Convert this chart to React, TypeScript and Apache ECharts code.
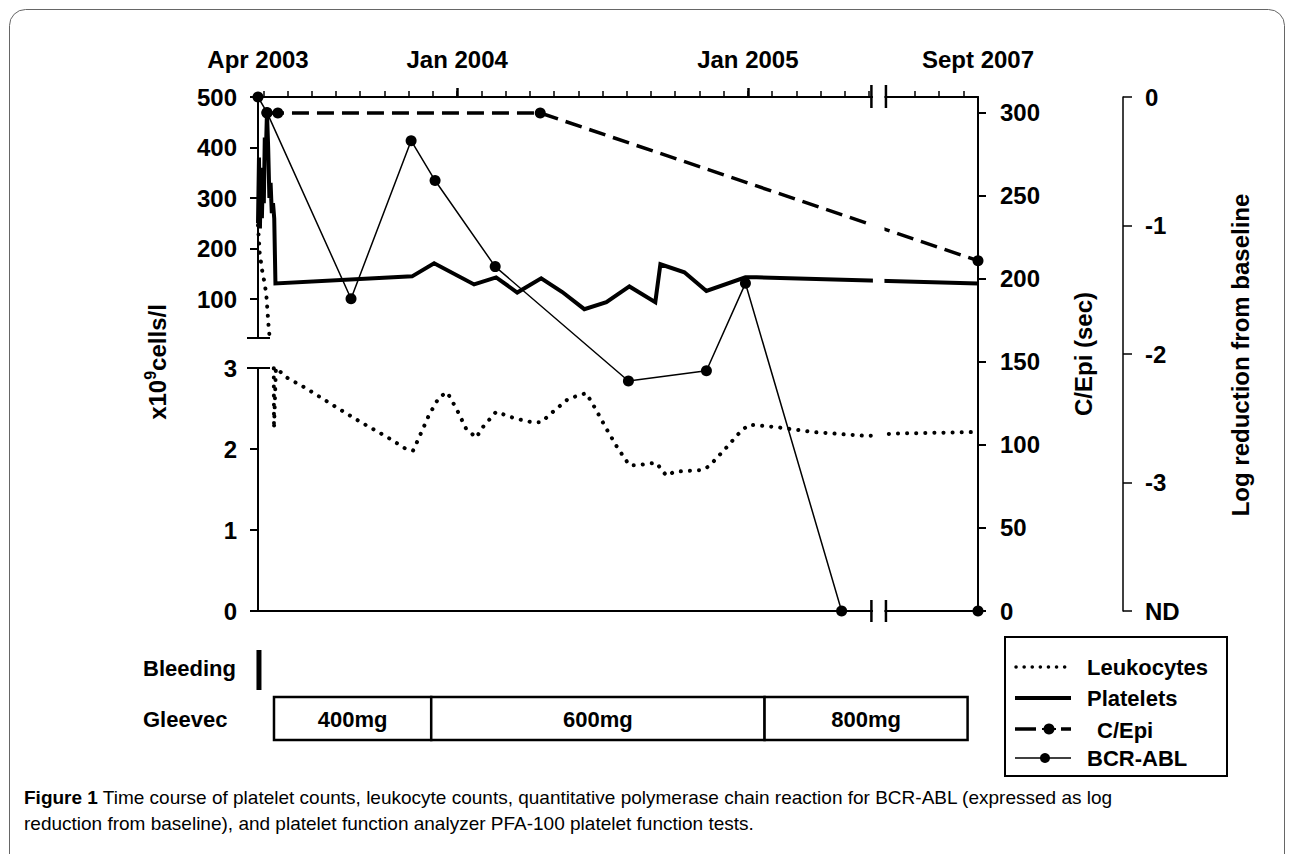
import React, { useEffect, useRef } from 'react';
import * as echarts from 'echarts';

const FONT = "'Liberation Sans', Arial, Helvetica, sans-serif";

// ---- time axis: months since 1 Apr 2003 ----
const X_START = 0.78; // left end of the time axis (late Apr 2003)
const X_END = 52.6; // right end of the time axis (Sept 2007)
const BREAK_FROM = 26.1; // axis break starts (Jun 2005)
const BREAK_TO = 48.8; // axis break ends (May 2007)
const BREAK_GAP = 0.6; // width of the gap drawn for the break, in axis months

// months -> position on the broken axis
const plot = (m: number) => (m <= BREAK_FROM ? m : m - (BREAK_TO - BREAK_FROM) + BREAK_GAP);

// ---- tick labels ----
const timeLabelMonths = [X_START, 9, 21, X_END];
const timeLabels = ['Apr 2003', 'Jan 2004', 'Jan 2005', 'Sept 2007'];
const monthTickMonths = [1, 2, 3, 4, 5, 6, 7, 8, 9, 10, 11, 12, 13, 14, 15, 16, 17, 18, 19, 20, 21, 22, 23, 24, 25, 26, 50, 51, 52];
const majorTickMonths = [9, 21];
const upperCountTicks = [100, 200, 300, 400, 500];
const lowerCountTicks = [0, 1, 2, 3];
const cepiTicks = [0, 50, 100, 150, 200, 250, 300];
const logTicks = [-4, -3, -2, -1, 0];
const logTickLabels = ['ND', '-3', '-2', '-1', '0'];

// ---- series ----
const plateletMonths = [0.78, 0.82, 0.86, 0.9, 0.94, 0.98, 1.02, 1.06, 1.1, 1.15, 1.2, 1.25, 1.3, 1.35, 1.4, 1.45, 1.5,
  7.14, 8.05, 9.7, 10.61, 11.48, 12.47, 13.34, 14.25, 15.16, 16.11, 17.18, 17.39, 18.38, 19.29, 20.9, 21.36, 52.6];
const plateletCounts = [250, 380, 240, 360, 260, 340, 290, 420, 380, 470, 400, 300, 330, 270, 290, 260, 131,
  145, 171, 129, 143, 113, 141, 114, 80, 94, 125, 94, 169, 153, 116, 143, 143, 131];

const leukocyteMonths = [0.78, 0.85, 0.95, 1.03, 1.12, 1.16, 1.22, 1.28, 1.44, 1.52,
  1.98, 2.76, 3.88, 5.03, 6.15, 6.89, 7.18, 7.35, 7.84, 8.26,
  8.59, 9.0, 9.37, 9.79, 10.03, 10.61, 11.36, 12.1, 12.47, 12.88,
  13.59, 14.33, 14.74, 15.16, 15.61, 16.11, 16.44, 17.22, 17.64, 17.97,
  19.12, 19.41, 20.12, 20.74, 21.07, 22.18, 23.67, 25.94, 49.08, 52.55];
const leukocyteCounts = [246, 191, 157, 137, 111, 84, 44, 15, 2.25, 3.0,
  2.88, 2.75, 2.54, 2.33, 2.14, 2.0, 1.98, 2.09, 2.42, 2.64,
  2.7, 2.48, 2.25, 2.14, 2.26, 2.46, 2.38, 2.33, 2.33, 2.44,
  2.62, 2.69, 2.48, 2.25, 2.02, 1.8, 1.8, 1.83, 1.67, 1.72,
  1.74, 1.79, 2.02, 2.23, 2.3, 2.27, 2.21, 2.16, 2.19, 2.21];

const bcrMonths = [0.78, 1.15, 4.62, 7.1, 8.09, 10.57, 16.07, 19.29, 20.9, 24.87, 52.6];
const bcrLogReduction = [0, -0.12, -1.57, -0.34, -0.65, -1.32, -2.21, -2.13, -1.45, -4, -4];

const cepiMonths = [1.15, 1.6, 12.43, 52.6];
const cepiSeconds = [300, 300, 300, 211];

const gleevecStart = [1.44, 7.93, 21.69];
const gleevecEnd = [7.93, 21.69, 52.17];
const gleevecDose = ['400mg', '600mg', '800mg'];

const bleedingMonths = [0.82];

// ---- layout ----
const PLOT_LEFT = 258;
const PLOT_WIDTH = 720;
const PLOT_TOP = 97;
const UPPER_BOTTOM = 338;
const LOWER_TOP = 368;
const PLOT_BOTTOM = 611;

const zip = (xs: number[], ys: number[]) => xs.map((x, i) => [plot(x), ys[i]]);
const close = (a: number, b: number) => Math.abs(a - b) < 0.02;

const labelFont = { color: '#000', fontFamily: FONT, fontWeight: 'bold' as const, fontSize: 24 };

const baseX = {
  type: 'value' as const,
  min: plot(X_START),
  max: plot(X_END),
  splitLine: { show: false },
};

const leukoLine = { color: '#000', width: 4, type: [0.1, 9], cap: 'round' };

function buildOption() {
  return {
    animation: false,
    backgroundColor: '#fff',
    grid: [
      { left: PLOT_LEFT, top: PLOT_TOP, width: PLOT_WIDTH, height: UPPER_BOTTOM - PLOT_TOP },
      { left: PLOT_LEFT, top: LOWER_TOP, width: PLOT_WIDTH, height: PLOT_BOTTOM - LOWER_TOP },
      { left: PLOT_LEFT, top: PLOT_TOP, width: PLOT_WIDTH, height: PLOT_BOTTOM - PLOT_TOP },
      { left: PLOT_LEFT, top: 640, width: PLOT_WIDTH, height: 110 },
    ],
    xAxis: [
      { ...baseX, gridIndex: 0, show: false },
      {
        ...baseX, gridIndex: 1, position: 'bottom',
        axisLine: { show: true, onZero: false, lineStyle: { color: '#000', width: 2 } },
        axisTick: { show: false }, axisLabel: { show: false },
      },
      {
        ...baseX, gridIndex: 2, position: 'top',
        axisLine: { show: true, onZero: false, lineStyle: { color: '#000', width: 2 } },
        axisTick: { show: true, customValues: monthTickMonths.map(plot), length: 6, lineStyle: { color: '#000', width: 1.5 } },
        axisLabel: {
          show: true, ...labelFont, margin: 26, showMinLabel: true, showMaxLabel: true,
          customValues: timeLabelMonths.map(plot),
          formatter: (v: number) => {
            const i = timeLabelMonths.findIndex((m) => close(plot(m), v));
            return i >= 0 ? timeLabels[i] : '';
          },
        },
      },
      {
        ...baseX, gridIndex: 2, position: 'top',
        axisLine: { show: false, onZero: false },
        axisTick: { show: true, customValues: majorTickMonths.map(plot), length: 9, lineStyle: { color: '#000', width: 2.5 } },
        axisLabel: { show: false },
      },
      { ...baseX, gridIndex: 3, show: false },
    ],
    yAxis: [
      {
        type: 'value', gridIndex: 0, position: 'left', min: 23, max: 500,
        axisLine: { show: true, onZero: false, lineStyle: { color: '#000', width: 2 } },
        axisTick: { show: true, customValues: upperCountTicks, length: 8, lineStyle: { color: '#000', width: 2 } },
        axisLabel: { show: true, customValues: upperCountTicks, ...labelFont, margin: 21 },
        splitLine: { show: false },
      },
      {
        type: 'value', gridIndex: 1, position: 'left', min: 0, max: 3,
        axisLine: { show: true, onZero: false, lineStyle: { color: '#000', width: 2 } },
        axisTick: { show: true, customValues: lowerCountTicks, length: 8, lineStyle: { color: '#000', width: 2 } },
        axisLabel: { show: true, customValues: lowerCountTicks, ...labelFont, margin: 21 },
        splitLine: { show: false },
      },
      {
        type: 'value', gridIndex: 2, position: 'right', min: 0, max: 309.6,
        axisLine: { show: true, onZero: false, lineStyle: { color: '#000', width: 2 } },
        axisTick: { show: true, customValues: cepiTicks, length: 8, lineStyle: { color: '#000', width: 2 } },
        axisLabel: { show: true, customValues: cepiTicks, ...labelFont, margin: 22 },
        splitLine: { show: false },
      },
      {
        type: 'value', gridIndex: 2, position: 'right', offset: 145, min: -4, max: 0,
        axisLine: { show: true, onZero: false, lineStyle: { color: '#000', width: 1.5 } },
        axisTick: { show: true, customValues: logTicks, length: 9, lineStyle: { color: '#000', width: 1.5 } },
        axisLabel: {
          show: true, customValues: logTicks, ...labelFont, margin: 22,
          formatter: (v: number) => {
            const i = logTicks.findIndex((t) => close(t, v));
            return i >= 0 ? logTickLabels[i] : '';
          },
        },
        splitLine: { show: false },
      },
      { type: 'value', gridIndex: 3, min: 0, max: 1, show: false },
    ],
    series: [
      {
        name: 'Platelets', type: 'line', xAxisIndex: 0, yAxisIndex: 0, silent: true,
        data: zip(plateletMonths, plateletCounts), showSymbol: false, symbol: 'none',
        lineStyle: { color: '#000', width: 4, join: 'miter' }, z: 3,
      },
      {
        name: 'Leukocytes', type: 'line', xAxisIndex: 0, yAxisIndex: 0, silent: true,
        data: zip(leukocyteMonths, leukocyteCounts), showSymbol: false, symbol: 'none',
        lineStyle: leukoLine, z: 2,
      },
      {
        name: 'Leukocytes', type: 'line', xAxisIndex: 1, yAxisIndex: 1, silent: true,
        data: zip(leukocyteMonths, leukocyteCounts), showSymbol: false, symbol: 'none',
        lineStyle: leukoLine, z: 2,
      },
      {
        name: 'C/Epi', type: 'line', xAxisIndex: 2, yAxisIndex: 2, silent: true, clip: false,
        data: zip(cepiMonths, cepiSeconds), symbol: 'circle', symbolSize: 11, showSymbol: true,
        itemStyle: { color: '#000' },
        lineStyle: { color: '#000', width: 3.5, type: [17, 8] }, z: 4,
      },
      {
        name: 'BCR-ABL', type: 'line', xAxisIndex: 2, yAxisIndex: 3, silent: true, clip: false,
        data: zip(bcrMonths, bcrLogReduction), symbol: 'circle', symbolSize: 11, showSymbol: true,
        itemStyle: { color: '#000' },
        lineStyle: { color: '#000', width: 1.5 }, z: 5,
      },
      {
        name: 'Gleevec', type: 'custom', xAxisIndex: 4, yAxisIndex: 4, silent: true, clip: false,
        encode: { x: [0, 1], y: 2 },
        data: gleevecStart.map((s, i) => [plot(s), plot(gleevecEnd[i]), 0.5, i]),
        renderItem: (_p: any, api: any) => {
          const x0 = api.coord([api.value(0), 0.5])[0];
          const x1 = api.coord([api.value(1), 0.5])[0];
          const idx = api.value(3);
          return {
            type: 'group',
            children: [
              { type: 'rect', shape: { x: x0, y: 697, width: x1 - x0, height: 43 }, style: { fill: '#fff', stroke: '#000', lineWidth: 2.5 } },
              {
                type: 'text',
                style: {
                  text: gleevecDose[idx], x: (x0 + x1) / 2, y: 719, fill: '#000',
                  font: `bold 22px ${FONT}`, align: 'center', verticalAlign: 'middle', textAlign: 'center', textVerticalAlign: 'middle',
                },
              },
            ],
          };
        },
      },
      {
        name: 'Bleeding', type: 'custom', xAxisIndex: 4, yAxisIndex: 4, silent: true, clip: false,
        encode: { x: 0, y: 1 },
        data: bleedingMonths.map((m) => [plot(m), 0.5]),
        renderItem: (_p: any, api: any) => {
          const x = api.coord([api.value(0), 0.5])[0];
          return { type: 'rect', shape: { x: x - 2.5, y: 650, width: 5, height: 40 }, style: { fill: '#000' } };
        },
      },
    ],
  };
}

function txt(id: string, x: number, y: number, text: string, size: number, extra: any = {}) {
  return {
    type: 'text', id, x, y, z: 100, silent: true,
    style: {
      text, fill: '#000', fontFamily: FONT, fontWeight: 'bold', fontSize: size,
      align: 'left', verticalAlign: 'middle', textAlign: 'left', textVerticalAlign: 'middle', ...extra,
    },
  };
}

function ln(id: string, x1: number, y1: number, x2: number, y2: number, width: number, extra: any = {}, z = 100) {
  return { type: 'line', id, z, silent: true, shape: { x1, y1, x2, y2 }, style: { stroke: '#000', lineWidth: width, ...extra } };
}

function buildGraphics(xb0: number, xb1: number) {
  const els: any[] = [];
  // figure frame
  els.push({
    type: 'rect', id: 'frame', z: 100, silent: true,
    shape: { x: 9.5, y: 9.5, width: 1275, height: 900, r: [16, 16, 0, 0] },
    style: { fill: 'none', stroke: '#666', lineWidth: 1 },
  });
  // axis-break cover and marks
  els.push({
    type: 'rect', id: 'breakCover', z: 90, silent: true,
    shape: { x: xb0 + 1.5, y: 80, width: xb1 - xb0 - 3, height: 548 },
    style: { fill: '#fff' },
  });
  els.push(ln('bt0', xb0, 85, xb0, 108, 2.5));
  els.push(ln('bt1', xb1, 85, xb1, 108, 2.5));
  els.push(ln('bb0', xb0, 600, xb0, 622, 2.5));
  els.push(ln('bb1', xb1, 600, xb1, 622, 2.5));
  // left axis break marks
  els.push(ln('lb0', 247, UPPER_BOTTOM, 270, UPPER_BOTTOM, 2));
  els.push(ln('lb1', 247, LOWER_TOP, 270, LOWER_TOP, 2));
  // axis titles
  els.push({
    type: 'text', id: 'leftTitle', x: 157, y: 362, rotation: Math.PI / 2, z: 100, silent: true,
    style: {
      text: 'x10{sup|9}cells/l', fill: '#000', fontFamily: FONT, fontWeight: 'bold', fontSize: 24, lineHeight: 30,
      align: 'center', verticalAlign: 'middle', textAlign: 'center', textVerticalAlign: 'middle',
      rich: { sup: { fontFamily: FONT, fontWeight: 'bold', fontSize: 16, lineHeight: 16, verticalAlign: 'top', fill: '#000' } },
    },
  });
  els.push({ ...txt('cepiTitle', 1083, 354, 'C/Epi (sec)', 24, { align: 'center', textAlign: 'center' }), rotation: Math.PI / 2 });
  els.push({ ...txt('logTitle', 1240, 355, 'Log reduction from baseline', 24, { align: 'center', textAlign: 'center' }), rotation: Math.PI / 2 });
  // row labels
  els.push(txt('bleedLabel', 143, 668, 'Bleeding', 22));
  els.push(txt('gleevecLabel', 143, 719, 'Gleevec', 22));
  // legend
  els.push({
    type: 'rect', id: 'legendBox', z: 100, silent: true,
    shape: { x: 1005, y: 637, width: 222, height: 139 },
    style: { fill: '#fff', stroke: '#000', lineWidth: 2 },
  });
  els.push(ln('lgLeuk', 1016, 667, 1071, 667, 3.5, { lineDash: [0.1, 8], lineCap: 'round' }, 101));
  els.push(txt('lgLeukT', 1087, 667, 'Leukocytes', 22, {}));
  els.push(ln('lgPlt', 1015, 698, 1071, 698, 4, {}, 101));
  els.push(txt('lgPltT', 1087, 698, 'Platelets', 22, {}));
  els.push(ln('lgCe1', 1015, 729, 1036, 729, 3.5, {}, 101));
  els.push(ln('lgCe2', 1042, 729, 1056, 729, 2, {}, 101));
  els.push(ln('lgCe3', 1061, 729, 1071, 729, 3.5, {}, 101));
  els.push({ type: 'circle', id: 'lgCeDot', z: 101, silent: true, shape: { cx: 1049, cy: 729, r: 5.5 }, style: { fill: '#000' } });
  els.push(txt('lgCeT', 1097, 730, 'C/Epi', 22, {}));
  els.push(ln('lgBcr', 1015, 758, 1071, 758, 1.5, {}, 101));
  els.push({ type: 'circle', id: 'lgBcrDot', z: 101, silent: true, shape: { cx: 1045, cy: 758, r: 5 }, style: { fill: '#000' } });
  els.push(txt('lgBcrT', 1087, 758, 'BCR-ABL', 22, {}));
  // caption
  els.push({
    type: 'text', id: 'cap1', x: 24, y: 797, z: 100, silent: true,
    style: {
      text: '{b|Figure 1} Time course of platelet counts, leukocyte counts, quantitative polymerase chain reaction for BCR-ABL (expressed as log',
      fill: '#000', fontFamily: FONT, fontSize: 19, align: 'left', verticalAlign: 'middle', textAlign: 'left', textVerticalAlign: 'middle',
      rich: { b: { fontFamily: FONT, fontSize: 19, fontWeight: 'bold', fill: '#000' } },
    },
  });
  els.push({
    type: 'text', id: 'cap2', x: 24, y: 823, z: 100, silent: true,
    style: {
      text: 'reduction from baseline), and platelet function analyzer PFA-100 platelet function tests.',
      fill: '#000', fontFamily: FONT, fontSize: 19, align: 'left', verticalAlign: 'middle', textAlign: 'left', textVerticalAlign: 'middle',
    },
  });
  return els;
}

export default function App() {
  const ref = useRef<HTMLDivElement>(null);
  useEffect(() => {
    if (!ref.current) return;
    const chart = echarts.init(ref.current, null, { renderer: 'svg' });
    chart.setOption(buildOption() as any);
    const xb0 = chart.convertToPixel({ xAxisIndex: 2 } as any, plot(BREAK_FROM)) as unknown as number;
    const xb1 = chart.convertToPixel({ xAxisIndex: 2 } as any, plot(BREAK_TO)) as unknown as number;
    chart.setOption({ graphic: { elements: buildGraphics(xb0, xb1) } } as any);
    return () => chart.dispose();
  }, []);
  return <div ref={ref} style={{ position: 'fixed', left: 0, top: 0, width: 1292, height: 854, background: '#fff' }} />;
}
